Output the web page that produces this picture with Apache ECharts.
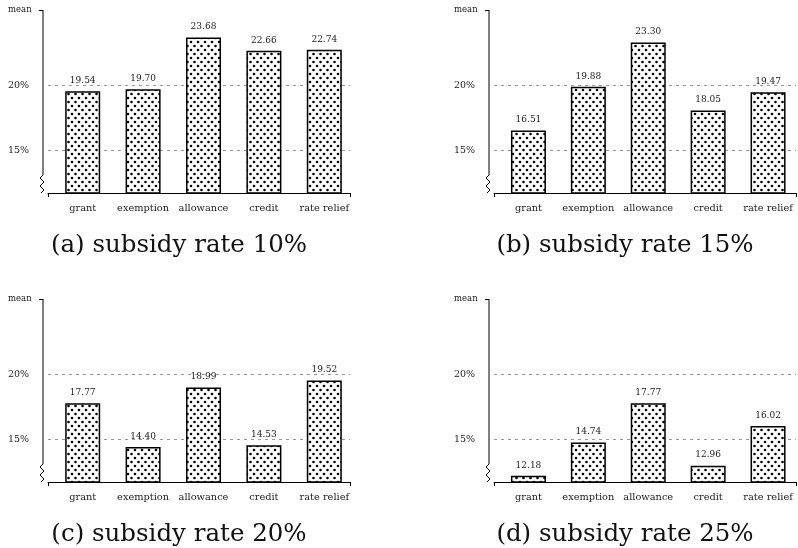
<!DOCTYPE html>
<html>
<head>
<meta charset="utf-8">
<script src="https://cdn.jsdelivr.net/npm/echarts@6/dist/echarts.min.js"></script>
<style>
html,body{margin:0;padding:0;background:#fff}
#main{width:798px;height:548px}
</style>
</head>
<body>
<div id="main"></div>
<script>
// data
var categories = ['grant', 'exemption', 'allowance', 'credit', 'rate relief'];
var rate10 = [19.54, 19.70, 23.68, 22.66, 22.74];
var rate15 = [16.51, 19.88, 23.30, 18.05, 19.47];
var rate20 = [17.77, 14.40, 18.99, 14.53, 19.52];
var rate25 = [12.18, 14.74, 17.77, 12.96, 16.02];
var panelTitles = ['(a) subsidy rate 10%', '(b) subsidy rate 15%', '(c) subsidy rate 20%', '(d) subsidy rate 25%'];
var yTicks = [15, 20];
var yMin = 11.7, yMax = 25.8;

var allData = [rate10, rate15, rate20, rate25];
var FONT = 'DejaVu Serif';

// dotted fill
var cv = document.createElement('canvas');
cv.width = 7; cv.height = 8;
var cx = cv.getContext('2d');
cx.fillStyle = '#fff';
cx.fillRect(0, 0, 7, 8);
cx.fillStyle = '#000';
cx.beginPath(); cx.arc(2, 2, 1.3, 0, Math.PI * 2); cx.fill();
cx.beginPath(); cx.arc(5.5, 6, 1.3, 0, Math.PI * 2); cx.fill();

// panel frames: left of plot area, top
var frames = [
    {left: 48, top: 10},
    {left: 494, top: 10},
    {left: 48, top: 299},
    {left: 494, top: 299}
];
var plotW = 302, plotH = 183;

var grid = [], xAxis = [], yAxis = [], series = [], graphic = [];

for (var i = 0; i < 4; i++) {
    var f = frames[i];
    // frame grid (axis lines, dashed lines)
    grid.push({left: f.left, top: f.top, width: plotW, height: plotH});
    // bar grid, slightly shifted
    grid.push({left: f.left + 4.5, top: f.top, width: plotW, height: plotH});

    xAxis.push({
        type: 'value', gridIndex: 2 * i, min: 0, max: 1, interval: 1,
        axisLine: {show: true, lineStyle: {color: '#000', width: 1}},
        axisTick: {show: true, length: 4, lineStyle: {color: '#000'}},
        axisLabel: {show: false},
        splitLine: {show: false}
    });
    xAxis.push({
        type: 'category', gridIndex: 2 * i + 1, data: categories,
        axisLine: {show: false},
        axisTick: {show: false},
        axisLabel: {interval: 0, margin: 10, color: '#222', fontFamily: FONT, fontSize: 9.8}
    });

    yAxis.push({
        type: 'value', gridIndex: 2 * i, min: yMin, max: yMax, position: 'left',
        axisLine: {show: false},
        axisTick: {show: false, customValues: yTicks},
        axisLabel: {
            customValues: yTicks, formatter: '{value}%', align: 'left', margin: 40,
            color: '#222', fontFamily: FONT, fontSize: 9.5
        },
        splitLine: {show: true, lineStyle: {color: '#999', type: [3, 4], width: 1}}
    });
    yAxis.push({
        type: 'value', gridIndex: 2 * i, min: yMin, max: yMax, position: 'left', offset: 5,
        axisLine: {show: false},
        axisTick: {show: true, customValues: [yMax], length: 4, lineStyle: {color: '#000'}},
        axisLabel: {
            customValues: [yMax], formatter: function () { return 'mean'; },
            align: 'left', margin: 35, color: '#222', fontFamily: FONT, fontSize: 8.5
        },
        splitLine: {show: false}
    });
    yAxis.push({
        type: 'value', gridIndex: 2 * i + 1, min: yMin, max: yMax, show: false,
        splitLine: {show: false}
    });

    series.push({
        type: 'bar',
        xAxisIndex: 2 * i + 1,
        yAxisIndex: 3 * i + 2,
        data: allData[i],
        barWidth: 35,
        z: 3,
        itemStyle: {
            color: {image: cv, repeat: 'repeat'},
            borderColor: '#000',
            borderWidth: 1.5
        },
        label: {
            show: true, position: 'top', distance: 6,
            formatter: function (p) { return p.value.toFixed(2); },
            color: '#222', fontFamily: FONT, fontSize: 9
        }
    });

    graphic.push({
        type: 'text',
        x: f.left + 131, y: f.top + 236,
        style: {
            text: panelTitles[i], fill: '#111', font: '24.5px "DejaVu Serif"',
            textAlign: 'center', textVerticalAlign: 'middle'
        }
    });
}

var myChart = echarts.init(document.getElementById('main'));
var option = {
    animation: false,
    backgroundColor: '#fff',
    grid: grid,
    xAxis: xAxis,
    yAxis: yAxis,
    series: series,
    graphic: graphic
};
myChart.setOption(option);

// y axis line with break mark
var breaks = [];
for (var k = 0; k < 4; k++) {
    var ax = myChart.convertToPixel({xAxisIndex: 2 * k}, 0) - 5;
    var yTop = myChart.convertToPixel({yAxisIndex: 3 * k + 1}, yMax);
    var yBot = myChart.convertToPixel({yAxisIndex: 3 * k + 1}, yMin);
    breaks.push({
        type: 'polyline',
        shape: {points: [
            [ax, yTop], [ax, yBot - 18], [ax - 3, yBot - 15], [ax + 1, yBot - 11],
            [ax - 3, yBot - 7], [ax + 1, yBot - 3], [ax - 2, yBot]
        ]},
        style: {stroke: '#000', lineWidth: 1, fill: null}
    });
}
myChart.setOption({graphic: graphic.concat(breaks)});
</script>
</body>
</html>
